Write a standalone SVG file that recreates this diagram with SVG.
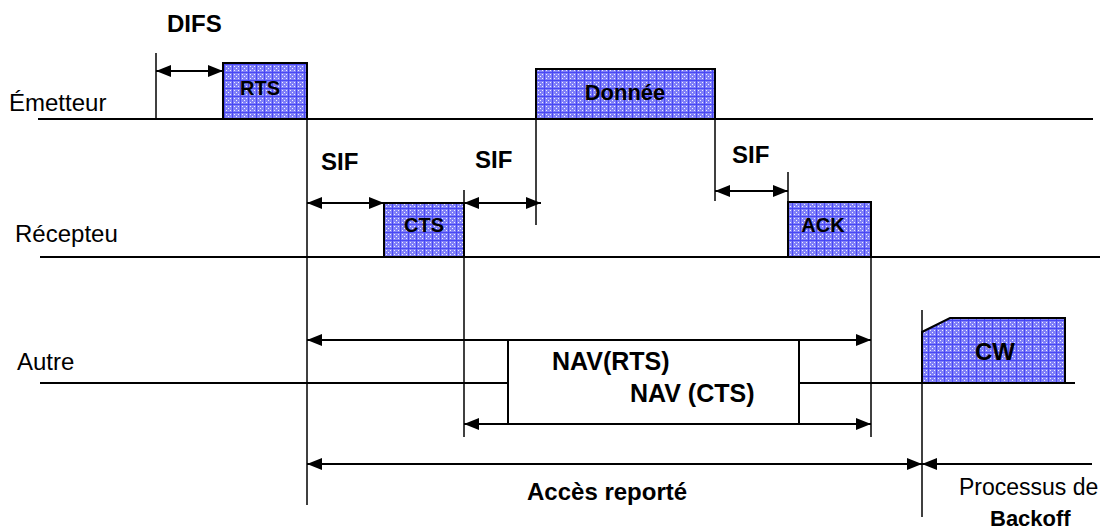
<svg xmlns="http://www.w3.org/2000/svg" width="1110" height="529" viewBox="0 0 1110 529">
  <style>
    .lbl { font-family: "Liberation Sans", Arial, sans-serif; font-size: 24px; fill: #000; }
    .bold { font-weight: bold; }
    .box-t { font-family: "Liberation Sans", Arial, sans-serif; font-size: 20px; font-weight: bold; fill: #000; text-anchor: middle; }
    .tl { stroke: #000; stroke-width: 2; fill: none; }
    .vl { stroke: #000; stroke-width: 1.5; fill: none; }
    .arr { stroke: #000; stroke-width: 2; fill: none; marker-end: url(#head); marker-start: url(#head); }
    .arr1 { stroke: #000; stroke-width: 2; fill: none; marker-end: url(#head); }
    .frame { fill: url(#mesh); stroke: #000; stroke-width: 2; }
  </style>
  <defs>
    <marker id="head" viewBox="0 0 15 12" refX="15" refY="6" markerWidth="15" markerHeight="12" markerUnits="userSpaceOnUse" orient="auto-start-reverse">
      <path d="M0,0 L15,6 L0,12 z" fill="#000"/>
    </marker>
    <!-- blue mesh fill for the frames -->
    <pattern id="mesh" width="8" height="8" patternUnits="userSpaceOnUse">
      <rect width="8" height="8" fill="#8080f8"/>
      <rect x="2" y="2" width="1" height="1" fill="#f0f0ff"/>
      <rect x="4" y="4" width="1" height="1" fill="#f0f0ff"/>
      <rect x="6" y="2" width="1" height="1" fill="#f0f0ff"/>
      <rect x="2" y="6" width="1" height="1" fill="#f0f0ff"/>
      <rect x="6" y="6" width="1" height="1" fill="#f0f0ff"/>
      <rect x="0" y="0" width="8" height="1" fill="#4848f4"/>
      <rect x="0" y="0" width="1" height="8" fill="#4848f4"/>
    </pattern>
  </defs>

  <rect width="1110" height="529" fill="#fff"/>

  <!-- station labels -->
  <g id="station-labels">
    <text class="lbl" x="9" y="111">Émetteur</text>
    <text class="lbl" x="15" y="242">Récepteu</text>
    <text class="lbl" x="17" y="370">Autre</text>
  </g>

  <!-- time lines -->
  <g id="timelines">
    <line class="tl" x1="38" y1="119" x2="1093" y2="119"/>
    <line class="tl" x1="40" y1="257" x2="1100" y2="257"/>
    <line class="tl" x1="40" y1="383" x2="508" y2="383"/>
    <line class="tl" x1="799" y1="383" x2="1075" y2="383"/>
  </g>

  <!-- frames -->
  <g id="rts">
    <rect class="frame" x="223" y="63" width="84" height="56"/>
    <text class="box-t" x="260" y="95">RTS</text>
  </g>
  <g id="cts">
    <rect class="frame" x="384" y="203" width="80" height="54"/>
    <text class="box-t" x="424" y="232">CTS</text>
  </g>
  <g id="donnee">
    <rect class="frame" x="536" y="69" width="179" height="50"/>
    <text class="box-t" x="625" y="100" style="font-size:22px">Donnée</text>
  </g>
  <g id="ack">
    <rect class="frame" x="788" y="202" width="83" height="55"/>
    <text class="box-t" x="823" y="232">ACK</text>
  </g>
  <g id="cw">
    <path class="frame" d="M922,332 L950,318 L1065,318 L1065,383 L922,383 z"/>
    <text class="box-t" x="995" y="360" style="font-size:24px">CW</text>
  </g>
  <g id="nav">
    <rect x="508" y="340" width="291" height="84" fill="#fff" stroke="#000" stroke-width="2"/>
    <text class="lbl bold" x="552" y="370" style="font-size:25px">NAV(RTS)</text>
    <text class="lbl bold" x="630" y="402" style="font-size:25px">NAV (CTS)</text>
  </g>

  <!-- connectors: boundaries and interval arrows -->
  <g id="connectors">
    <line class="vl" x1="156" y1="53" x2="156" y2="119"/>
    <line class="vl" x1="307" y1="63" x2="307" y2="505"/>
    <line class="vl" x1="464" y1="190" x2="464" y2="437"/>
    <line class="vl" x1="536" y1="69" x2="536" y2="225"/>
    <line class="vl" x1="715" y1="119" x2="715" y2="201"/>
    <line class="vl" x1="788" y1="172" x2="788" y2="202"/>
    <line class="vl" x1="871" y1="202" x2="871" y2="437"/>
    <line class="vl" x1="922" y1="310" x2="922" y2="517"/>

    <line class="arr" x1="156" y1="71" x2="223" y2="71"/>
    <line class="arr" x1="307" y1="203" x2="384" y2="203"/>
    <line class="arr" x1="464" y1="203" x2="541" y2="203"/>
    <line class="arr" x1="715" y1="191" x2="788" y2="191"/>
    <line class="arr" x1="307" y1="340" x2="871" y2="340"/>
    <line class="arr" x1="464" y1="424" x2="871" y2="424"/>
    <line class="arr" x1="307" y1="464" x2="922" y2="464"/>
    <line class="arr1" x1="1092" y1="464" x2="922" y2="464"/>
  </g>

  <!-- interval labels -->
  <g id="interval-labels">
    <text class="lbl bold" x="167" y="32">DIFS</text>
    <text class="lbl bold" x="321" y="170">SIF</text>
    <text class="lbl bold" x="475" y="168">SIF</text>
    <text class="lbl bold" x="732" y="163">SIF</text>
    <text class="lbl bold" x="527" y="500">Accès reporté</text>
    <text class="lbl" x="959" y="495" style="font-size:23px">Processus de</text>
    <text class="lbl bold" x="990" y="526" style="font-size:22px">Backoff</text>
  </g>
</svg>
